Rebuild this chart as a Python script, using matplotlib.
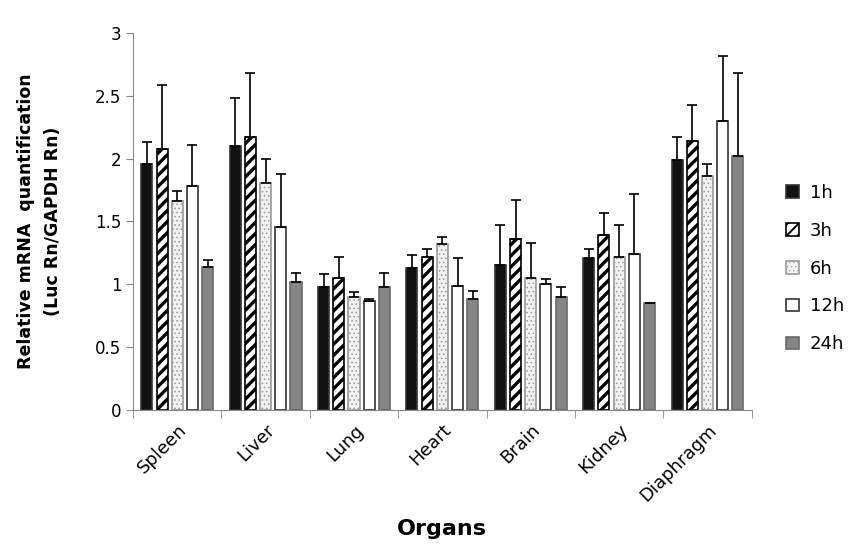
import numpy as np
import matplotlib
matplotlib.use("Agg")
import matplotlib.pyplot as plt

plt.rcParams['font.family'] = ['DejaVu Sans']
plt.rcParams['hatch.linewidth'] = 2.2

organs = ["Spleen", "Liver", "Lung", "Heart", "Brain", "Kidney", "Diaphragm"]
times = ["1h", "3h", "6h", "12h", "24h"]

# mean values per time point (one entry per organ)
v_1h = [1.96, 2.10, 0.98, 1.13, 1.15, 1.21, 1.99]
v_3h = [2.08, 2.17, 1.05, 1.22, 1.36, 1.39, 2.14]
v_6h = [1.66, 1.81, 0.90, 1.32, 1.05, 1.22, 1.86]
v_12h = [1.78, 1.46, 0.87, 0.99, 1.00, 1.24, 2.30]
v_24h = [1.14, 1.02, 0.98, 0.88, 0.90, 0.85, 2.02]

# upper error (SD)
e_1h = [0.17, 0.38, 0.10, 0.10, 0.32, 0.07, 0.18]
e_3h = [0.51, 0.51, 0.17, 0.06, 0.31, 0.18, 0.29]
e_6h = [0.08, 0.19, 0.04, 0.06, 0.28, 0.25, 0.10]
e_12h = [0.33, 0.42, 0.01, 0.22, 0.04, 0.48, 0.52]
e_24h = [0.05, 0.07, 0.11, 0.07, 0.08, 0.00, 0.66]

values = [v_1h, v_3h, v_6h, v_12h, v_24h]
errors = [e_1h, e_3h, e_6h, e_12h, e_24h]

styles = [
    dict(color="#111111", edgecolor="#333333", hatch=None, hlw=1.0),
    dict(color="white", edgecolor="black", hatch="///", hlw=2.4),
    dict(color="#f2f2f2", edgecolor="#9a9a9a", hatch="....", hlw=0.6),
    dict(color="white", edgecolor="#333333", hatch=None, hlw=1.0),
    dict(color="#858585", edgecolor="#6a6a6a", hatch=None, hlw=1.0),
]

fig = plt.figure(figsize=(8.64, 5.6), dpi=100)
ax = fig.add_axes([0.154, 0.268, 0.716, 0.673])

x = np.arange(len(organs))
width = 0.125
step = 0.172
for i, (vals, errs, st) in enumerate(zip(values, errors, styles)):
    pos = x + (i - 2) * step
    bars = ax.bar(pos, vals, width, color=st["color"], edgecolor=st["edgecolor"],
                  hatch=st["hatch"], linewidth=1.2, label=times[i], zorder=2)
    for p in bars:
        p.set_hatch_linewidth(st["hlw"])
    ax.errorbar(pos, vals, yerr=[np.zeros(len(errs)), errs], fmt="none",
                ecolor="black", elinewidth=1.2, capsize=3.5, capthick=1.2, zorder=3)

ax.set_xlim(-0.5, len(organs) - 0.5)
ax.set_ylim(0, 3)
ax.set_yticks(np.arange(0, 3.01, 0.5))
ax.set_yticklabels(["0", "0.5", "1", "1.5", "2", "2.5", "3"], fontsize=12)
ax.set_xticks(x)
ax.set_xticklabels(organs, rotation=45, ha="right", rotation_mode="anchor", fontsize=13)
ax.tick_params(axis="x", length=0, pad=8)
ax.set_xticks(np.arange(-0.5, len(organs)), minor=True)
ax.tick_params(axis="x", which="minor", length=6, color="#888888")
ax.tick_params(axis="y", length=5, color="#888888")

for s in ["top", "right"]:
    ax.spines[s].set_visible(False)
for s in ["left", "bottom"]:
    ax.spines[s].set_color("#888888")

ax.set_xlabel("Organs", fontsize=16, fontweight="bold", labelpad=10)
ax.set_ylabel("Relative mRNA  quantification\n(Luc Rn/GAPDH Rn)", fontsize=12.5,
              fontweight="bold", labelpad=24, linespacing=1.6)

leg = ax.legend(loc="center left", bbox_to_anchor=(1.03, 0.375), frameon=False, fontsize=13,
                handlelength=0.7, handleheight=0.7, labelspacing=1.1, handletextpad=0.6)
for h, st in zip(leg.legend_handles, styles):
    h.set_hatch_linewidth(st["hlw"] * 0.6)

fig.savefig("out.png", dpi=100)
